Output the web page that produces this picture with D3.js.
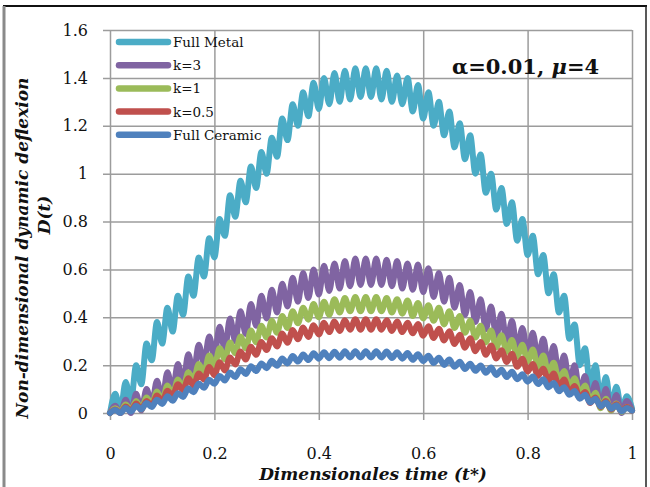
<!DOCTYPE html>
<html>
<head>
<meta charset="utf-8">
<script src="https://cdnjs.cloudflare.com/ajax/libs/d3/7.8.5/d3.min.js"></script>
<style>
  body { margin: 0; background: #fff; }
  svg { display: block; }
  .axis text { font-family: "DejaVu Serif", serif; font-size: 16px; fill: #111; }
  .axis line { stroke: #9c9c9c; stroke-width: 1.5; }
</style>
</head>
<body>
<div class="visHolder"></div>
<script>
// dimensionless time t*
var tValues = [0, 0.01, 0.02, 0.03, 0.04, 0.05, 0.06, 0.07, 0.08, 0.09,
    0.1, 0.11, 0.12, 0.13, 0.14, 0.15, 0.16, 0.17, 0.18, 0.19,
    0.2, 0.21, 0.22, 0.23, 0.24, 0.25, 0.26, 0.27, 0.28, 0.29,
    0.3, 0.31, 0.32, 0.33, 0.34, 0.35, 0.36, 0.37, 0.38, 0.39,
    0.4, 0.41, 0.42, 0.43, 0.44, 0.45, 0.46, 0.47, 0.48, 0.49,
    0.5, 0.51, 0.52, 0.53, 0.54, 0.55, 0.56, 0.57, 0.58, 0.59,
    0.6, 0.61, 0.62, 0.63, 0.64, 0.65, 0.66, 0.67, 0.68, 0.69,
    0.7, 0.71, 0.72, 0.73, 0.74, 0.75, 0.76, 0.77, 0.78, 0.79,
    0.8, 0.81, 0.82, 0.83, 0.84, 0.85, 0.86, 0.87, 0.88, 0.89,
    0.9, 0.91, 0.92, 0.93, 0.94, 0.95, 0.96, 0.97, 0.98, 0.99, 1];

// D(t) for each material (peaks / troughs)
var fullMetal = [0.00, 0.08, 0.01, 0.13, 0.04, 0.20, 0.12, 0.29, 0.22, 0.38,
    0.29, 0.44, 0.34, 0.49, 0.41, 0.57, 0.49, 0.65, 0.57, 0.73,
    0.65, 0.81, 0.74, 0.91, 0.82, 0.97, 0.88, 1.03, 0.94, 1.09,
    1.00, 1.15, 1.07, 1.23, 1.14, 1.29, 1.20, 1.34, 1.24, 1.38,
    1.27, 1.40, 1.29, 1.42, 1.30, 1.43, 1.31, 1.44, 1.32, 1.44,
    1.32, 1.44, 1.31, 1.43, 1.30, 1.41, 1.29, 1.40, 1.26, 1.37,
    1.23, 1.34, 1.20, 1.30, 1.16, 1.26, 1.11, 1.21, 1.06, 1.16,
    1.00, 1.08, 0.92, 1.00, 0.85, 0.94, 0.79, 0.88, 0.72, 0.81,
    0.66, 0.74, 0.58, 0.66, 0.50, 0.58, 0.42, 0.49, 0.31, 0.37,
    0.20, 0.27, 0.11, 0.20, 0.05, 0.15, 0.02, 0.11, 0.01, 0.07, 0.02];

var k3 = [0.00, 0.03, 0.00, 0.055, 0.00, 0.08, 0.01, 0.10, 0.035, 0.135,
    0.055, 0.17, 0.09, 0.205, 0.125, 0.245, 0.165, 0.285, 0.205, 0.32,
    0.24, 0.36, 0.265, 0.395, 0.30, 0.425, 0.33, 0.455, 0.365, 0.49,
    0.395, 0.515, 0.42, 0.54, 0.445, 0.565, 0.465, 0.585, 0.48, 0.60,
    0.495, 0.615, 0.51, 0.625, 0.52, 0.635, 0.53, 0.645, 0.535, 0.645,
    0.535, 0.645, 0.535, 0.64, 0.53, 0.635, 0.52, 0.625, 0.515, 0.62,
    0.505, 0.605, 0.485, 0.585, 0.465, 0.565, 0.44, 0.535, 0.41, 0.505,
    0.38, 0.475, 0.35, 0.445, 0.32, 0.415, 0.29, 0.385, 0.265, 0.355,
    0.245, 0.335, 0.225, 0.31, 0.195, 0.28, 0.16, 0.24, 0.12, 0.20,
    0.08, 0.155, 0.045, 0.125, 0.025, 0.10, 0.01, 0.075, 0.00, 0.05, 0.01];

var k1 = [0.00, 0.02, 0.005, 0.035, 0.01, 0.05, 0.015, 0.065, 0.035, 0.09,
    0.05, 0.115, 0.075, 0.14, 0.105, 0.17, 0.135, 0.205, 0.165, 0.24,
    0.195, 0.27, 0.225, 0.295, 0.25, 0.32, 0.27, 0.345, 0.295, 0.365,
    0.315, 0.385, 0.335, 0.405, 0.355, 0.425, 0.375, 0.44, 0.39, 0.455,
    0.40, 0.465, 0.41, 0.475, 0.42, 0.48, 0.425, 0.485, 0.425, 0.485,
    0.425, 0.485, 0.425, 0.48, 0.42, 0.475, 0.415, 0.47, 0.405, 0.46,
    0.395, 0.45, 0.385, 0.44, 0.37, 0.425, 0.355, 0.405, 0.335, 0.385,
    0.315, 0.365, 0.295, 0.345, 0.275, 0.325, 0.255, 0.305, 0.235, 0.285,
    0.215, 0.265, 0.19, 0.24, 0.165, 0.21, 0.135, 0.175, 0.11, 0.145,
    0.08, 0.115, 0.05, 0.085, 0.02, 0.06, 0.01, 0.04, 0.005, 0.025, 0.01];

var k05 = [0.00, 0.015, 0.00, 0.027, 0.008, 0.04, 0.015, 0.05, 0.03, 0.073,
    0.047, 0.093, 0.072, 0.12, 0.095, 0.145, 0.115, 0.165, 0.14, 0.192,
    0.158, 0.212, 0.178, 0.232, 0.203, 0.257, 0.223, 0.277, 0.243, 0.297,
    0.263, 0.312, 0.278, 0.332, 0.293, 0.347, 0.308, 0.357, 0.318, 0.367,
    0.328, 0.377, 0.338, 0.382, 0.343, 0.387, 0.348, 0.392, 0.348, 0.392,
    0.348, 0.392, 0.348, 0.387, 0.343, 0.382, 0.338, 0.377, 0.333, 0.372,
    0.323, 0.362, 0.313, 0.352, 0.303, 0.342, 0.288, 0.327, 0.273, 0.312,
    0.258, 0.297, 0.243, 0.282, 0.228, 0.262, 0.213, 0.247, 0.193, 0.227,
    0.173, 0.205, 0.155, 0.185, 0.135, 0.165, 0.11, 0.14, 0.085, 0.113,
    0.062, 0.088, 0.042, 0.065, 0.025, 0.05, 0.015, 0.037, 0.008, 0.025, 0.01];

var fullCeramic = [0.00, 0.013, 0.00, 0.022, 0.006, 0.03, 0.015, 0.042, 0.025, 0.055,
    0.038, 0.07, 0.051, 0.083, 0.067, 0.103, 0.087, 0.123, 0.105, 0.139,
    0.122, 0.155, 0.136, 0.169, 0.15, 0.183, 0.163, 0.195, 0.175, 0.207,
    0.187, 0.218, 0.197, 0.228, 0.207, 0.238, 0.215, 0.244, 0.221, 0.25,
    0.227, 0.254, 0.229, 0.256, 0.231, 0.258, 0.232, 0.258, 0.232, 0.258,
    0.232, 0.258, 0.232, 0.257, 0.23, 0.254, 0.227, 0.251, 0.222, 0.245,
    0.217, 0.239, 0.209, 0.231, 0.201, 0.223, 0.193, 0.214, 0.184, 0.206,
    0.176, 0.198, 0.168, 0.19, 0.159, 0.181, 0.15, 0.172, 0.141, 0.162,
    0.131, 0.152, 0.121, 0.141, 0.107, 0.125, 0.091, 0.108, 0.076, 0.092,
    0.06, 0.076, 0.044, 0.06, 0.028, 0.044, 0.018, 0.032, 0.007, 0.021, 0.01];

var seriesNames = ["Full Metal", "k=3", "k=1", "k=0.5", "Full Ceramic"];
var xTicks = [0, 0.2, 0.4, 0.6, 0.8, 1];
var yTicks = [0, 0.2, 0.4, 0.6, 0.8, 1, 1.2, 1.4, 1.6];

var width = 650,
    height = 487;

var colors = ["#4bacc6", "#8064a2", "#9bbb59", "#c0504d", "#4f81bd"];
var allSeries = [fullMetal, k3, k1, k05, fullCeramic];

var svg = d3
    .select(".visHolder")
    .append("svg")
    .attr("width", width)
    .attr("height", height);

// frame round the chart area
svg.append("line")
    .attr("x1", 3).attr("x2", 647).attr("y1", 6).attr("y2", 6)
    .style("stroke", "#111").style("stroke-width", 2);
svg.append("line")
    .attr("x1", 4).attr("x2", 4).attr("y1", 6).attr("y2", height)
    .style("stroke", "#8a8a8a").style("stroke-width", 3);
svg.append("line")
    .attr("x1", 646).attr("x2", 646).attr("y1", 6).attr("y2", height)
    .style("stroke", "#222").style("stroke-width", 1.5);

var xScale = d3.scaleLinear().domain([0, 1]).range([110, 632]);
var yScale = d3.scaleLinear().domain([0, 1.6]).range([413, 30]);

var fmt = d3.format("~g");

// horizontal grid + y ticks + labels
svg.append("g")
    .attr("class", "axis")
    .attr("transform", "translate(103,0)")
    .call(d3.axisLeft(yScale).tickValues(yTicks).tickSize(-(632 - 103)).tickPadding(15).tickFormat(fmt))
    .call(function (g) { g.select(".domain").remove(); });

// vertical grid + x ticks + labels
svg.append("g")
    .attr("class", "axis")
    .attr("transform", "translate(0,420)")
    .call(d3.axisBottom(xScale).tickValues(xTicks).tickSize(-(420 - 30)).tickPadding(28).tickFormat(fmt))
    .call(function (g) { g.select(".domain").remove(); });

var line = d3
    .line()
    .x(function (d, i) { return xScale(tValues[i]); })
    .y(function (d) { return yScale(d); })
    .curve(d3.curveMonotoneX);

svg.append("g")
    .selectAll("path")
    .data(allSeries)
    .enter()
    .append("path")
    .attr("d", line)
    .style("fill", "none")
    .style("stroke", function (d, i) { return colors[i]; })
    .style("stroke-width", 6)
    .style("stroke-linecap", "round")
    .style("stroke-linejoin", "round");

// legend
var legend = svg
    .append("g")
    .selectAll("g")
    .data(seriesNames)
    .enter()
    .append("g")
    .attr("transform", function (d, i) { return "translate(0," + (42 + i * 23.2) + ")"; });

legend.append("line")
    .attr("x1", 119).attr("x2", 168)
    .style("stroke", function (d, i) { return colors[i]; })
    .style("stroke-width", 6.5)
    .style("stroke-linecap", "round");

legend.append("text")
    .attr("x", 173)
    .attr("y", 5)
    .style("font-family", "DejaVu Serif, serif")
    .style("font-size", "13.5px")
    .style("fill", "#111")
    .text(function (d) { return d; });

// parameters
var note = svg.append("text")
    .attr("x", 452)
    .attr("y", 74)
    .style("font-family", "DejaVu Serif, serif")
    .style("font-size", "21px")
    .style("font-weight", "bold")
    .style("fill", "#111");
note.append("tspan").text("\u03b1=0.01, ");
note.append("tspan").style("font-style", "italic").text("\u03bc");
note.append("tspan").text("=4");

// axis titles
svg.append("text")
    .attr("transform", "translate(28,248) rotate(-90)")
    .attr("text-anchor", "middle")
    .style("font-family", "DejaVu Serif, serif")
    .style("font-size", "17px")
    .style("font-weight", "bold")
    .style("font-style", "italic")
    .style("fill", "#111")
    .text("Non-dimensional dynamic deflexion");

svg.append("text")
    .attr("transform", "translate(50,215) rotate(-90)")
    .attr("text-anchor", "middle")
    .style("font-family", "DejaVu Serif, serif")
    .style("font-size", "17px")
    .style("font-weight", "bold")
    .style("font-style", "italic")
    .style("fill", "#111")
    .text("D(t)");

svg.append("text")
    .attr("x", 373)
    .attr("y", 480)
    .attr("text-anchor", "middle")
    .style("font-family", "DejaVu Serif, serif")
    .style("font-size", "17px")
    .style("font-weight", "bold")
    .style("font-style", "italic")
    .style("fill", "#111")
    .text("Dimensionales time (t*)");
</script>
</body>
</html>
